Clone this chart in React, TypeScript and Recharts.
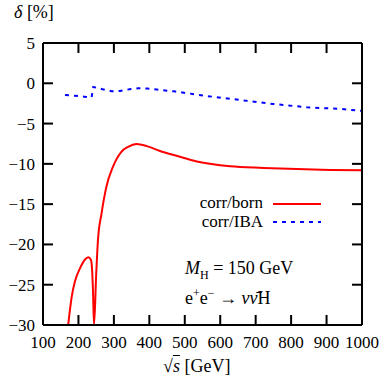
import { LineChart, Line, XAxis, YAxis } from "recharts";

const bornSqrtS = [171, 181, 190, 204, 218, 228, 235, 238, 241, 244, 250, 255, 265, 279, 297, 321, 340, 364, 393, 430, 477, 534, 628, 722, 816, 910, 1000];
const bornDelta = [-30, -26.5, -24.6, -23.0, -21.9, -21.6, -21.9, -22.8, -25.7, -30, -23.8, -19.5, -16.2, -12.8, -10.4, -8.5, -7.9, -7.55, -7.8, -8.4, -9.0, -9.7, -10.3, -10.5, -10.65, -10.75, -10.8];

const ibaSqrtS = [162, 190, 216, 237, 242, 255, 268, 294, 317, 344, 369, 394, 421, 470, 562, 656, 750, 844, 938, 1000];
const ibaDelta = [-1.45, -1.55, -1.66, -1.74, -0.45, -0.6, -0.74, -0.99, -0.96, -0.74, -0.62, -0.66, -0.78, -1.0, -1.58, -2.07, -2.57, -2.98, -3.18, -3.42];

const xTicks = [100, 200, 300, 400, 500, 600, 700, 800, 900, 1000];
const yTicks = [5, 0, -5, -10, -15, -20, -25, -30];

const bornData = bornSqrtS.map((x, i) => ({ x, y: bornDelta[i] }));
const ibaData = ibaSqrtS.map((x, i) => ({ x, y: ibaDelta[i] }));

const font = "Liberation Serif";
const fmt = (v: number) => String(v).replace("-", "\u2212");
const axisLine = { stroke: "#000", strokeWidth: 2 };
const tickLine = { stroke: "#000", strokeWidth: 2 };
const NoLabel = () => <g />;

const XTick = (props: any) => (
  <text x={props.x} y={props.y} dy={12} textAnchor="middle" fill="#000" style={{ fontFamily: font, fontSize: 17 }}>
    {props.payload.value}
  </text>
);

const YTick = (props: any) => (
  <text x={props.x} y={props.y} dy={6} textAnchor="end" fill="#000" style={{ fontFamily: font, fontSize: 17 }}>
    {fmt(props.payload.value)}
  </text>
);

const App = () => {
  return (
    <div style={{ position: "absolute", left: 0, top: 0, width: 382, height: 382, background: "#fff", fontFamily: font, color: "#000" }}>
      <LineChart width={382} height={382} margin={{ top: 43, right: 20, left: 0, bottom: 0 }}>
        <XAxis
          xAxisId="b"
          type="number"
          dataKey="x"
          domain={[100, 1000]}
          ticks={xTicks}
          allowDataOverflow
          height={57}
          tickSize={0}
          tickMargin={11}
          tickLine={false}
          axisLine={axisLine}
          tick={<XTick />}
        />
        <XAxis xAxisId="bm" type="number" dataKey="x" domain={[100, 1000]} ticks={xTicks} allowDataOverflow mirror tick={<NoLabel />} tickSize={10} tickLine={tickLine} axisLine={false} />
        <XAxis xAxisId="tm" orientation="top" type="number" dataKey="x" domain={[100, 1000]} ticks={xTicks} allowDataOverflow mirror tick={<NoLabel />} tickSize={10} tickLine={tickLine} axisLine={axisLine} />
        <YAxis
          yAxisId="l"
          type="number"
          dataKey="y"
          domain={[-30, 5]}
          ticks={yTicks}
          allowDataOverflow
          width={43}
          tickSize={0}
          tickMargin={8}
          tickLine={false}
          axisLine={axisLine}
          tick={<YTick />}
        />
        <YAxis yAxisId="lm" type="number" domain={[-30, 5]} ticks={yTicks} allowDataOverflow mirror tick={<NoLabel />} tickSize={10} tickLine={tickLine} axisLine={false} />
        <YAxis yAxisId="rm" orientation="right" type="number" domain={[-30, 5]} ticks={yTicks} allowDataOverflow mirror tick={<NoLabel />} tickSize={10} tickLine={tickLine} axisLine={axisLine} />
        <Line xAxisId="b" yAxisId="l" data={bornData} dataKey="y" type="monotone" stroke="#ff0000" strokeWidth={2} dot={false} isAnimationActive={false} />
        <Line xAxisId="b" yAxisId="l" data={ibaData} dataKey="y" type="linear" stroke="#0000ff" strokeWidth={2} strokeDasharray="4 5" dot={false} isAnimationActive={false} />
      </LineChart>

      <div style={{ position: "absolute", left: 14, top: 2, fontSize: 18 }}>
        <i>δ</i> [%]
      </div>
      <div style={{ position: "absolute", left: 163, top: 356, fontSize: 18 }}>
        √<span style={{ textDecoration: "overline", fontStyle: "italic" }}>s</span> [GeV]
      </div>

      <div style={{ position: "absolute", right: 382 - 263, top: 195, fontSize: 17, textAlign: "right", lineHeight: "15px" }}>
        corr/born
      </div>
      <div style={{ position: "absolute", right: 382 - 263, top: 214, fontSize: 17, textAlign: "right", lineHeight: "15px" }}>
        corr/IBA
      </div>
      <svg style={{ position: "absolute", left: 0, top: 0 }} width={382} height={382}>
        <line x1={273} x2={321} y1={204} y2={204} stroke="#ff0000" strokeWidth={2} />
        <line x1={273} x2={321} y1={222} y2={222} stroke="#0000ff" strokeWidth={2} strokeDasharray="4 5" />
      </svg>

      <div style={{ position: "absolute", left: 185, top: 258, fontSize: 18, whiteSpace: "nowrap" }}>
        <i>M</i>
        <sub style={{ fontSize: 12 }}>H</sub> = 150 GeV
      </div>
      <div style={{ position: "absolute", left: 185, top: 286, fontSize: 18, whiteSpace: "nowrap" }}>
        e<sup style={{ fontSize: 12 }}>+</sup>e<sup style={{ fontSize: 12 }}>−</sup> → <i>ν</i>
        <i>ν̄</i>H
      </div>
    </div>
  );
};

export default App;
